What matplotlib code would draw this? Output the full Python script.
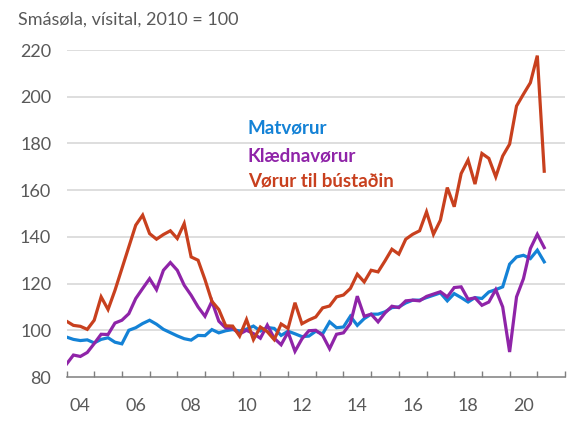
import matplotlib
matplotlib.use("Agg")
import matplotlib.pyplot as plt
from matplotlib.ticker import FixedLocator, NullFormatter, FixedFormatter
import numpy as np

# Quarterly data, 2004Q1 .. 2021Q2
start_year = 2004
matvorur = [97.1, 96.1, 95.6, 95.9, 94.6, 96.1, 96.8, 94.9, 94.2, 100.0,
            101.1, 102.9, 104.3, 102.6, 100.4, 99.0, 97.6, 96.4, 95.8, 97.8,
            97.7, 100.3, 98.9, 99.8, 100.3, 99.7, 100.5, 101.8, 99.7, 101.2,
            100.8, 97.8, 99.6, 98.5, 97.3, 97.5, 99.6, 98.5, 103.6, 101.1,
            101.4, 106.0, 102.1, 105.0, 106.9, 106.9, 107.9, 109.7, 110.0, 111.7,
            112.9, 112.9, 114.0, 115.0, 116.0, 112.6, 115.7, 114.0, 112.1, 114.0,
            113.6, 116.4, 117.4, 118.6, 128.3, 131.4, 132.1, 130.7, 134.3, 129.3]
klaednavorur = [85.5, 89.4, 88.8, 90.5, 94.3, 98.3, 98.2, 103.1, 104.3, 107.1,
                113.6, 117.9, 122.1, 117.4, 125.7, 129.0, 125.7, 119.3, 115.0, 110.0,
                106.0, 112.4, 103.9, 101.0, 101.0, 98.4, 100.0, 98.6, 96.6, 102.2,
                96.6, 93.8, 99.2, 91.0, 96.3, 99.8, 100.0, 97.8, 92.1, 98.3,
                98.9, 102.9, 114.6, 106.0, 106.9, 103.6, 107.4, 110.3, 109.7, 112.6,
                112.9, 112.6, 114.5, 115.5, 116.5, 114.3, 118.3, 118.6, 113.3, 113.9,
                110.7, 112.1, 117.4, 110.0, 90.7, 114.3, 122.1, 135.0, 141.1, 135.4]
vorur_bustadin = [103.9, 102.1, 101.7, 100.4, 104.3, 114.3, 108.9, 117.1, 126.4, 135.7,
                  145.0, 149.3, 141.4, 139.0, 141.0, 142.6, 139.3, 145.7, 131.4, 130.0,
                  121.7, 112.4, 108.9, 101.9, 101.8, 97.5, 104.6, 96.0, 101.4, 99.4,
                  96.0, 102.7, 100.8, 111.8, 102.8, 104.4, 105.7, 109.6, 110.4, 114.3,
                  115.1, 117.9, 124.0, 120.7, 125.7, 125.0, 129.7, 134.7, 132.6, 139.0,
                  141.1, 142.6, 150.7, 141.1, 147.1, 161.1, 152.9, 167.1, 172.9, 162.6,
                  175.7, 173.6, 165.7, 174.6, 179.7, 196.0, 201.1, 206.0, 217.6, 168.1]

series_names = ["Matvørur", "Klædnavørur", "Vørur til bústaðin"]
colors = ["#1482D6", "#8F24A8", "#C8401E"]
y_ticks = [80, 100, 120, 140, 160, 180, 200, 220]
year_label_years = list(range(2004, 2021, 2))
year_labels = [f"{y % 100:02d}" for y in year_label_years]
title = "Smásøla, vísital, 2010 = 100"

plt.rcParams['font.family'] = ['Lato', 'DejaVu Sans']

fig = plt.figure(figsize=(5.78, 4.36), dpi=100)
ax = fig.add_axes([66.5 / 578, 1 - 377 / 436, (565 - 66.5) / 578, (377 - 50) / 436])

x = start_year + np.arange(len(matvorur)) / 4.0
for vals, c in zip([matvorur, klaednavorur, vorur_bustadin], colors):
    ax.plot(x, vals, color=c, lw=2.3, solid_joinstyle='miter', zorder=3)

ax.set_xlim(2004, 2022)
ax.set_ylim(80, 220)

grid_col = "#d4d4d4"
for yv in y_ticks[1:]:
    ax.axhline(yv, color=grid_col, lw=1.1, zorder=1)

ax.set_yticks(y_ticks)
ax.tick_params(axis='y', length=0, pad=11, labelsize=13, labelcolor="#595959")

ax.xaxis.set_major_locator(FixedLocator(list(range(2004, 2023))))
ax.xaxis.set_major_formatter(NullFormatter())
ax.xaxis.set_minor_locator(FixedLocator([y + 0.5 for y in year_label_years]))
ax.xaxis.set_minor_formatter(FixedFormatter(year_labels))
ax.tick_params(axis='x', which='major', direction='in', length=4, width=1, color="#7f7f7f")
ax.tick_params(axis='x', which='minor', length=0, pad=15, labelsize=13, labelcolor="#595959")

for s in ['top', 'right', 'left']:
    ax.spines[s].set_visible(False)
ax.spines['bottom'].set_color("#7f7f7f")
ax.spines['bottom'].set_linewidth(1.1)

fig.text(18 / 578, 1 - 20 / 436, title, fontsize=13, color="#595959", ha='left', va='center')

label_y = [186.6, 174.6, 163.9]
for name, c, yv in zip(series_names, colors, label_y):
    ax.text(2010.55, yv, name, color=c, fontsize=13.5, fontweight='bold', ha='left', va='center')

fig.savefig("out.png", dpi=100)
